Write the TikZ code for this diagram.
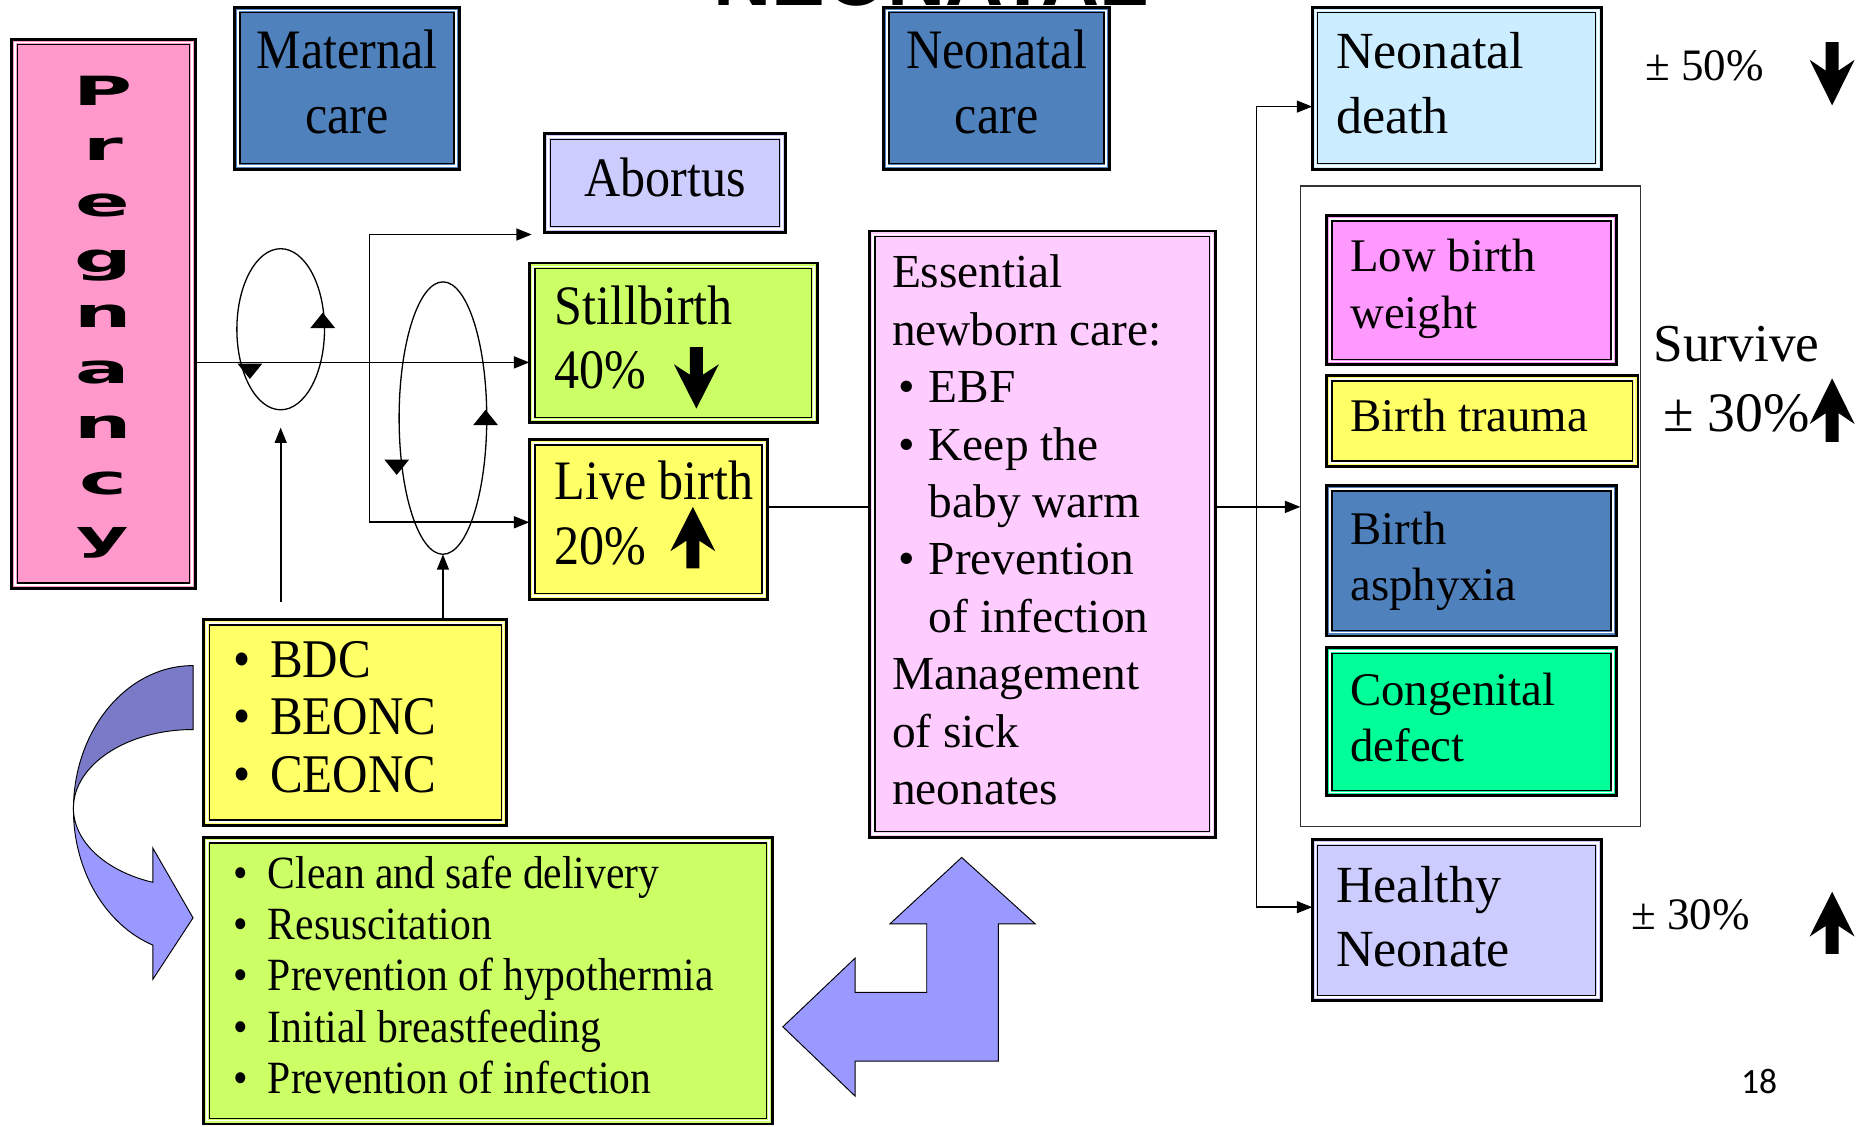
\documentclass[tikz,border=0pt]{standalone}
\usepackage{fontspec}
\setmainfont{Liberation Serif}
\newfontfamily\condfont[FakeStretch=0.9]{Liberation Serif}
\newfontfamily\pregfont[FakeStretch=2]{DejaVu Sans}
\newfontfamily\titlefont{Liberation Sans}
\newfontfamily\pagefont{Carlito}
\usetikzlibrary{arrows.meta,shapes.geometric}
\definecolor{cpink}{RGB}{255,153,204}
\definecolor{cblue}{RGB}{79,129,189}
\definecolor{clav}{RGB}{204,204,255}
\definecolor{clime}{RGB}{204,255,102}
\definecolor{cyel}{RGB}{255,255,102}
\definecolor{cess}{RGB}{255,204,255}
\definecolor{csky}{RGB}{204,236,255}
\definecolor{cmag}{RGB}{255,153,255}
\definecolor{cgreen}{RGB}{0,255,153}
\definecolor{carrowA}{RGB}{122,122,200}
\definecolor{carrowB}{RGB}{153,153,255}
\tikzset{
  boxbase/.style={draw=black, line width=2.4pt, inner sep=0pt, outer sep=0pt, rectangle},
  conn/.style={line width=1.5pt, -{Triangle[length=13pt,width=10pt]}},
  plainline/.style={line width=1.5pt},
  loopell/.style={draw, ellipse, line width=1.1pt, inner sep=0pt, outer sep=0pt},
  cond/.style={font=\condfont\fontsize{47}{56}\selectfont, inner sep=0pt},
  condS/.style={font=\condfont\fontsize{46}{56}\selectfont, inner sep=0pt},
  condG/.style={font=\condfont\fontsize{39}{48}\selectfont, inner sep=0pt},
  esstxt/.style={font=\fontsize{40}{48}\selectfont, inner sep=0pt},
  rbig/.style={font=\fontsize{44}{52}\selectfont, inner sep=0pt},
  rsm/.style={font=\fontsize{39.5}{48}\selectfont, inner sep=0pt},
  pct/.style={font=\fontsize{38}{46}\selectfont, inner sep=0pt},
  surv/.style={font=\fontsize{45}{54}\selectfont, inner sep=0pt},
  pregl/.style={font=\pregfont\bfseries\fontsize{34}{34}\selectfont, inner sep=0pt},
  shapeA/.style={fill=carrowA, draw=black, line width=0.8pt},
  shapeB/.style={fill=carrowB, draw=black, line width=0.8pt},
}
% framed box: name, colour, x0, y0, x1, y1
\newcommand\dbox[6]{%
  \node[boxbase, fill=#2, minimum width={(#5)-(#3)}, minimum height={(#6)-(#4)}] (#1) at ({((#3)+(#5))/2},{((#4)+(#6))/2}) {};
  \draw[white, line width=1.4pt] ([shift={(2.9,2.9)}]#1.north west) rectangle ([shift={(-2.9,-2.9)}]#1.south east);
  \draw[black, line width=1.1pt] ([shift={(4.7,4.7)}]#1.north west) rectangle ([shift={(-4.7,-4.7)}]#1.south east);
}
% block arrow: centre x, tail y, tip y
\newcommand\blk[3]{%
  \fill ({#1-5.5},#2) -- ({#1+5.5},#2) -- ({#1+5.5},{#3+0.55*(#2-#3)}) -- ({#1+19},{#3+0.72*(#2-#3)}) -- (#1,#3) -- ({#1-19},{#3+0.72*(#2-#3)}) -- ({#1-5.5},{#3+0.55*(#2-#3)}) -- cycle;}
% small triangle on loops: x, base y, tip y
\newcommand\tri[3]{\fill ({#1-10.5},#2) -- ({#1+10.5},#2) -- (#1,#3) -- cycle;}

\begin{document}
\begin{tikzpicture}[x=1pt,y=-1pt]
\useasboundingbox (0,0) rectangle (1568,951);
\clip (0,0) rectangle (1568,951);
\fill[white] (0,0) rectangle (1568,951);

% title (cut off at the top edge, as in the reference)
\node[font=\titlefont\bfseries\fontsize{68}{70}\selectfont, anchor=base, inner sep=0pt] (title) at (786,4.5) {NEONATAL};

% boxes
\dbox{preg}{cpink}{10}{33}{165}{497}
\dbox{mat}{cblue}{198}{6}{388}{143}
\dbox{neoc}{cblue}{746}{6}{937}{143}
\dbox{abort}{clav}{460}{113}{663}{196}
\dbox{still}{clime}{447}{222}{690}{357}
\dbox{live}{cyel}{447}{371}{648}{506}
\dbox{ess}{cess}{734}{195}{1026}{707}
\dbox{bdc}{cyel}{172}{523}{428}{697}
\dbox{grn}{clime}{172}{707}{652}{949}
\dbox{nd}{csky}{1108}{6}{1352}{143}
\node[draw=black!80, line width=1pt, inner sep=0pt, outer sep=0pt, minimum width=287, minimum height=541] (cont) at (1241.5,427.5) {};
\dbox{lbw}{cmag}{1120}{182}{1365}{308}
\dbox{bt}{cyel}{1120}{317}{1383}{394}
\dbox{ba}{cblue}{1120}{410}{1365}{537}
\dbox{cd}{cgreen}{1120}{547}{1365}{672}
\dbox{hn}{clav}{1108}{709}{1352}{845}

% Pregnancy letters
\foreach \l [count=\i] in {P,r,e,g,n,a,n,c,y}
  \node[pregl, anchor=base] (pl\i) at (87,{89+46.9*(\i-1)}) {\l};

% texts
\node[cond, anchor=base] (matA) at (293,58) {Maternal};
\node[cond, anchor=base] (matB) at (293,113) {care};
\node[cond, anchor=base] (neocA) at (841.5,58) {Neonatal};
\node[cond, anchor=base] (neocB) at (841.5,113) {care};
\node[cond, anchor=base] (abT) at (561.5,166) {Abortus};
\node[cond, anchor=base west] (stA) at (468,274) {Stillbirth};
\node[cond, anchor=base west] (stB) at (468,328) {40\%};
\node[cond, anchor=base west] (lvA) at (468,422) {Live birth};
\node[cond, anchor=base west] (lvB) at (468,477) {20\%};

\node[esstxt, anchor=base west] (e1) at (753,243) {Essential};
\node[esstxt, anchor=base west] (e2) at (753,291.5) {newborn care:};
\node[esstxt, anchor=base] (eb1) at (766,340) {•};
\node[esstxt, anchor=base west] (e3) at (784,340) {EBF};
\node[esstxt, anchor=base] (eb2) at (766,388.5) {•};
\node[esstxt, anchor=base west] (e4) at (784,388.5) {Keep the};
\node[esstxt, anchor=base west] (e5) at (784,437) {baby warm};
\node[esstxt, anchor=base] (eb3) at (766,485.5) {•};
\node[esstxt, anchor=base west] (e6) at (784,485.5) {Prevention};
\node[esstxt, anchor=base west] (e7) at (784,534) {of infection};
\node[esstxt, anchor=base west] (e8) at (753,582.5) {Management};
\node[esstxt, anchor=base west] (e9) at (753,631) {of sick};
\node[esstxt, anchor=base west] (e10) at (753,679.5) {neonates};

\foreach \t [count=\i] in {BDC,BEONC,CEONC} {
  \node[condS, anchor=base] (bdcb\i) at (204,{572+48.5*(\i-1)}) {•};
  \node[condS, anchor=base west] (bdct\i) at (228,{572+48.5*(\i-1)}) {\t};
}
\foreach \t [count=\i] in {Clean and safe delivery,Resuscitation,Prevention of hypothermia,Initial breastfeeding,Prevention of infection} {
  \node[condG, anchor=base] (gb\i) at (203,{750+43.3*(\i-1)}) {•};
  \node[condG, anchor=base west] (gt\i) at (226,{750+43.3*(\i-1)}) {\t};
}

\node[rbig, anchor=base west] (ndA) at (1128,58) {Neonatal};
\node[rbig, anchor=base west] (ndB) at (1128,113) {death};
\node[rsm, anchor=base west] (lbwA) at (1140,229) {Low birth};
\node[rsm, anchor=base west] (lbwB) at (1140,277) {weight};
\node[rsm, anchor=base west] (btA) at (1140,364) {Birth trauma};
\node[rsm, anchor=base west] (baA) at (1140,460) {Birth};
\node[rsm, anchor=base west] (baB) at (1140,507) {asphyxia};
\node[rsm, anchor=base west] (cdA) at (1140,596) {Congenital};
\node[rsm, anchor=base west] (cdB) at (1140,643) {defect};
\node[rbig, anchor=base west] (hnA) at (1128,762) {Healthy};
\node[rbig, anchor=base west] (hnB) at (1128,816) {Neonate};

\node[pct, anchor=base west] (p50) at (1389,68) {± 50\%};
\node[surv, anchor=base west] (sv) at (1396,305.5) {Survive};
\node[font=\fontsize{47}{54}\selectfont, inner sep=0pt, anchor=base west] (p30a) at (1404,364.5) {± 30\%};
\node[pct, anchor=base west] (p30b) at (1377,784.5) {± 30\%};
\node[font=\pagefont\fontsize{30}{30}\selectfont, inner sep=0pt, anchor=base west] (pg) at (1470,923) {18};

% block arrows
\blk{588}{293}{345}
\blk{585}{480}{428}
\blk{1547}{35.5}{89}
\blk{1547}{373}{319.5}
\blk{1547}{805.5}{753}

% loops
\node[loopell, minimum width=74, minimum height=136] (loop1) at (237,278) {};
\node[loopell, minimum width=74, minimum height=230] (loop2) at (374,353) {};
\tri{272.5}{277}{264}
\tri{211}{307}{320}
\tri{410}{359}{346}
\tri{335}{388}{401}

% connectors left
\coordinate (fork) at (312,306);
\coordinate (abin) at (449,198);
\draw[plainline] (preg.east |- fork) -- (fork);
\draw[conn] (fork) -- (still.west |- fork);
\draw[conn] (fork) |- (abin);
\draw[conn] (fork) |- (live.west |- 0,441);
\coordinate (bdcA) at (237,508);
\coordinate (l1in) at (237,361);
\draw[conn] (bdcA) -- (l1in);
\draw[conn] (bdc.north -| loop2.south) -- (loop2.south);
\draw[plainline] (live.east |- 0,428) -- (ess.west |- 0,428);

% connectors right
\coordinate (split) at (1061,428);
\draw[plainline] (ess.east |- split) -- (split);
\draw[conn] (split) -- (cont.west |- split);
\draw[conn] (split) |- (nd.west |- 0,90);
\draw[conn] (split) |- (hn.west |- 0,766);

% curved arrow
\path[shapeA] (163,562) .. controls (107.2,562) and (62,616.4) .. (62,683.5) -- (62,682.4) .. controls (62,645.7) and (107.2,616) .. (163,616) -- cycle;
\path[shapeB] (62,683.5) .. controls (62,734.8) and (88.8,780.7) .. (129,798) -- (129,827) -- (163,775) -- (129,716) -- (129,745) .. controls (88.8,735.5) and (62,710.4) .. (62,682.4) -- cycle;

% bent arrow
\path[shapeB] (812,724) -- (874,780) -- (843,780) -- (843,896) -- (722,896) -- (722,925.5) -- (661,867) -- (722,809) -- (722,838) -- (782.5,838) -- (782.5,780) -- (751.5,780) -- cycle;
\end{tikzpicture}
\end{document}
